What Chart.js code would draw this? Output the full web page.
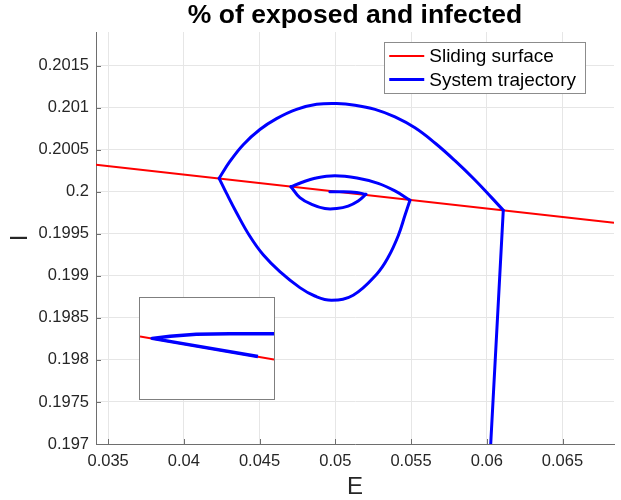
<!DOCTYPE html>
<html>
<head>
<meta charset="utf-8">
<script src="https://cdn.jsdelivr.net/npm/chart.js@4.4.0/dist/chart.umd.min.js"></script>
<style>
  html, body { margin: 0; padding: 0; background: #fff; }
  #wrap { position: relative; width: 621px; height: 500px; }
  canvas { display: block; }
  #inset { position: absolute; left: 139px; top: 297px; width: 134px; height: 101px; border: 1px solid #7f7f7f; background: #fff; }
</style>
</head>
<body>
<div id="wrap">
  <canvas id="main" width="621" height="500"></canvas>
  <div id="inset"><canvas id="zoom" width="134" height="101"></canvas></div>
</div>
<script>
// values
var chartTitle = '% of exposed and infected';

var surfaceE = [0.0342, 0.0684];
var surfaceI = [0.20032, 0.19963];

// trajectory pieces, each one starts where the last one ended (on the sliding surface)
var entryE = [0.06026, 0.06109];
var entryI = [0.19700, 0.19978];

var arc1E = [0.06109, 0.06032, 0.05922, 0.05790, 0.05658, 0.05526, 0.05394, 0.05262, 0.05130, 0.05009, 0.04877, 0.04744, 0.04612, 0.04502, 0.04392, 0.04304, 0.04233];
var arc1I = [0.19978, 0.19993, 0.20014, 0.20037, 0.20058, 0.20076, 0.20089, 0.20098, 0.20103, 0.20105, 0.20104, 0.20098, 0.20087, 0.20074, 0.20056, 0.20036, 0.20016];

var arc2E = [0.04233, 0.04282, 0.04348, 0.04436, 0.04524, 0.04634, 0.04766, 0.04865, 0.04976, 0.05118, 0.05273, 0.05349, 0.05416, 0.05460, 0.05493];
var arc2I = [0.20016, 0.19998, 0.19975, 0.19947, 0.19925, 0.19905, 0.19886, 0.19876, 0.19871, 0.19877, 0.19902, 0.19922, 0.19948, 0.19972, 0.19990];

var arc3E = [0.05493, 0.05394, 0.05283, 0.05151, 0.04997, 0.04865, 0.04777, 0.04707];
var arc3I = [0.19990, 0.20001, 0.20010, 0.20016, 0.20019, 0.20016, 0.20011, 0.20006];

var arc4E = [0.04707, 0.04766, 0.04844, 0.04931, 0.05009, 0.05085, 0.05151, 0.05202];
var arc4I = [0.20006, 0.19993, 0.19985, 0.19980, 0.19980, 0.19983, 0.19989, 0.19997];

var arc5E = [0.05202, 0.05141, 0.05052, 0.04964];
var arc5I = [0.19997, 0.19999, 0.20000, 0.20000];

// inset (zoomed detail), local units 0..100
var insetSurfaceX = [0, 100];
var insetSurfaceY = [62, 39];
var insetTrajX = [100, 67, 42, 22.5, 9, 88];
var insetTrajY = [64.5, 64.5, 64, 62.2, 60, 42];

var xTicks = [0.035, 0.04, 0.045, 0.05, 0.055, 0.06, 0.065];
var xTickLabels = ['0.035', '0.04', '0.045', '0.05', '0.055', '0.06', '0.065'];
var yTicks = [0.197, 0.1975, 0.198, 0.1985, 0.199, 0.1995, 0.2, 0.2005, 0.201, 0.2015];
var yTickLabels = ['0.197', '0.1975', '0.198', '0.1985', '0.199', '0.1995', '0.2', '0.2005', '0.201', '0.2015'];

var FONT = '"Liberation Sans", Arial, Helvetica, sans-serif';

function toPoints(xs, ys) {
  return xs.map(function(x, i) { return { x: x, y: ys[i] }; });
}

function trajPiece(xs, ys, tension) {
  return {
    label: 'System trajectory',
    data: toPoints(xs, ys),
    showLine: true,
    borderColor: '#0000ff',
    borderWidth: 3,
    borderJoinStyle: 'round',
    borderCapStyle: 'round',
    tension: tension,
    pointRadius: 0,
    order: 0
  };
}

// title centred over the plot area
var titlePlugin = {
  id: 'plotTitle',
  afterDraw: function(chart) {
    var c = chart.ctx, a = chart.chartArea;
    c.save();
    c.font = 'bold 26.5px ' + FONT;
    c.fillStyle = '#000';
    c.textAlign = 'center';
    c.textBaseline = 'middle';
    c.fillText(chartTitle, (a.left + a.right) / 2, 16);
    c.restore();
  }
};

// small inward tick marks like matlab
var tickMarks = {
  id: 'tickMarks',
  beforeDatasetsDraw: function(chart) {
    var c = chart.ctx, a = chart.chartArea;
    var xs = chart.scales.x, ys = chart.scales.y;
    c.save();
    c.strokeStyle = '#6e6e6e';
    c.lineWidth = 1;
    c.beginPath();
    xTicks.forEach(function(v) {
      var p = Math.round(xs.getPixelForValue(v)) + 0.5;
      c.moveTo(p, a.bottom); c.lineTo(p, a.bottom - 5);
    });
    yTicks.forEach(function(v) {
      var p = Math.round(ys.getPixelForValue(v)) + 0.5;
      c.moveTo(a.left, p); c.lineTo(a.left + 5, p);
    });
    c.stroke();
    c.restore();
  }
};

// boxed legend inside the plot, top right (one row per label)
var boxLegend = {
  id: 'boxLegend',
  afterDraw: function(chart) {
    var c = chart.ctx, a = chart.chartArea;
    var seen = {}, sets = [];
    chart.data.datasets.forEach(function(d) {
      if (!seen[d.label]) { seen[d.label] = true; sets.push(d); }
    });
    c.save();
    c.font = '19px ' + FONT;
    var tw = 0;
    sets.forEach(function(d) { tw = Math.max(tw, c.measureText(d.label).width); });
    var w = 5 + 35 + 5 + tw + 9, h = 51;
    var right = a.right - 29, top = a.top + 10;
    var left = right - w;
    c.fillStyle = '#fff';
    c.fillRect(left, top, w, h);
    c.strokeStyle = '#8c8c8c';
    c.lineWidth = 1;
    c.strokeRect(Math.round(left) + 0.5, Math.round(top) + 0.5, Math.round(w), h);
    sets.forEach(function(d, i) {
      var y = top + 14 + i * 23.6;
      c.strokeStyle = d.borderColor;
      c.lineWidth = d.borderWidth;
      c.beginPath();
      c.moveTo(left + 5, y); c.lineTo(left + 40, y);
      c.stroke();
      c.fillStyle = '#000';
      c.textAlign = 'left';
      c.textBaseline = 'middle';
      c.fillText(d.label, left + 45, y + 1);
    });
    c.restore();
  }
};

var ctx = document.getElementById('main').getContext('2d');
var mainChart = new Chart(ctx, {
  type: 'scatter',
  data: {
    datasets: [
      {
        label: 'Sliding surface',
        data: toPoints(surfaceE, surfaceI),
        showLine: true,
        borderColor: '#ff0000',
        borderWidth: 2,
        pointRadius: 0,
        order: 1
      },
      trajPiece(entryE, entryI, 0),
      trajPiece(arc1E, arc1I, 0.4),
      trajPiece(arc2E, arc2I, 0.4),
      trajPiece(arc3E, arc3I, 0.4),
      trajPiece(arc4E, arc4I, 0.4),
      trajPiece(arc5E, arc5I, 0.4)
    ]
  },
  options: {
    responsive: false,
    animation: false,
    layout: { padding: { top: 32, right: 7, left: 0, bottom: 0 } },
    plugins: { legend: { display: false }, tooltip: { enabled: false } },
    scales: {
      x: {
        type: 'linear',
        min: 0.0342,
        max: 0.0684,
        afterBuildTicks: function(scale) { scale.ticks = xTicks.map(function(v) { return { value: v }; }); },
        afterFit: function(scale) { scale.height = 56; },
        ticks: {
          callback: function(v, i) { return xTickLabels[i]; },
          font: { family: FONT, size: 16.5 },
          color: '#262626',
          padding: 8,
          maxRotation: 0,
          autoSkip: false
        },
        grid: { color: '#e6e6e6', drawTicks: false },
        border: { display: true, color: '#6e6e6e', width: 1 },
        title: {
          display: true,
          text: 'E',
          font: { family: FONT, size: 24, lineHeight: 1.1 },
          color: '#262626',
          padding: { top: 0, bottom: -1 }
        }
      },
      y: {
        type: 'linear',
        min: 0.197,
        max: 0.2019,
        afterBuildTicks: function(scale) { scale.ticks = yTicks.map(function(v) { return { value: v }; }); },
        afterFit: function(scale) { scale.width = 96; },
        ticks: {
          callback: function(v, i) { return yTickLabels[i]; },
          font: { family: FONT, size: 16.5 },
          color: '#262626',
          padding: 7,
          autoSkip: false
        },
        grid: { color: '#e6e6e6', drawTicks: false },
        border: { display: true, color: '#6e6e6e', width: 1 },
        title: {
          display: true,
          text: 'I',
          font: { family: FONT, size: 24 },
          color: '#262626',
          padding: { top: 6, bottom: 0 }
        }
      }
    }
  },
  plugins: [titlePlugin, tickMarks, boxLegend]
});

// inset chart
var zctx = document.getElementById('zoom').getContext('2d');
var insetChart = new Chart(zctx, {
  type: 'scatter',
  data: {
    datasets: [
      { label: 'surface', data: toPoints(insetSurfaceX, insetSurfaceY), showLine: true, borderColor: '#ff0000', borderWidth: 2, pointRadius: 0, order: 1 },
      { label: 'trajectory', data: toPoints(insetTrajX, insetTrajY), showLine: true, borderColor: '#0000ff', borderWidth: 3.5, borderJoinStyle: 'round', pointRadius: 0, order: 0 }
    ]
  },
  options: {
    responsive: false,
    animation: false,
    layout: { padding: 0 },
    plugins: { legend: { display: false }, tooltip: { enabled: false } },
    scales: {
      x: { type: 'linear', display: false, min: 0, max: 100 },
      y: { type: 'linear', display: false, min: 0, max: 100 }
    }
  }
});
</script>
</body>
</html>
